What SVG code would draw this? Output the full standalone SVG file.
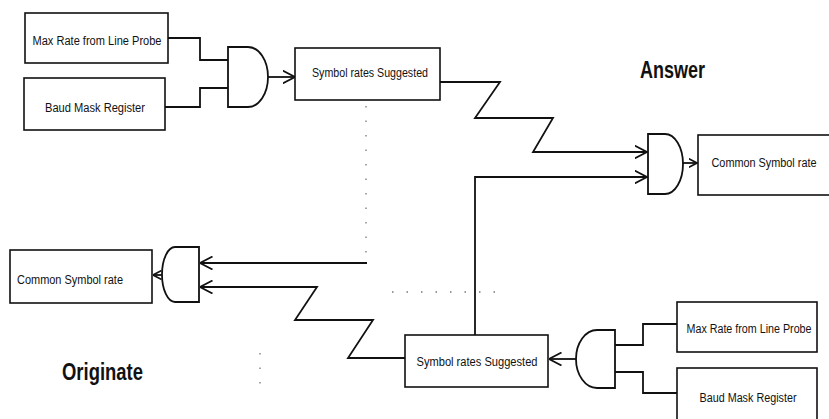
<svg xmlns="http://www.w3.org/2000/svg" width="829" height="419" viewBox="0 0 829 419">
<style>
.box{fill:#fff;stroke:#111;stroke-width:1.6}
.gate{fill:none;stroke:#111;stroke-width:1.8}
.wire{fill:none;stroke:#111;stroke-width:1.8}
.arr{marker-end:url(#ah)}
.sarr{marker-end:url(#sah)}
.faint{fill:none;stroke:#777;stroke-width:1.3;stroke-dasharray:1.5 13}
.t{font-family:"Liberation Sans",Arial,sans-serif;font-size:12px;fill:#111;text-anchor:middle}
.big{font-family:"Liberation Sans",Arial,sans-serif;font-size:23px;font-weight:bold;fill:#111}
</style>
<defs>
<marker id="ah" viewBox="0 0 13 14" refX="12.5" refY="7" markerWidth="13" markerHeight="14" markerUnits="userSpaceOnUse" orient="auto">
<path d="M0,0.5 L12.5,7 L0,13.5" fill="none" stroke="#111" stroke-width="1.8"/>
</marker>
<marker id="sah" viewBox="0 0 9 10" refX="8.5" refY="5" markerWidth="9" markerHeight="10" markerUnits="userSpaceOnUse" orient="auto">
<path d="M0,0.5 L8.5,5 L0,9.5" fill="none" stroke="#111" stroke-width="1.6"/>
</marker>
</defs>

<g id="connectors">
<polyline class="wire" points="168,38 200,38 200,60 228,60"/>
<polyline class="wire" points="165,107 200,107 200,88 228,88"/>
<line class="wire arr" x1="268" y1="77" x2="295" y2="77"/>
<polyline class="wire arr" points="440,82 500,82 475,118 553,118 533,152 647,152"/>
<polyline class="wire arr" points="475,335 475,177 647,177"/>
<line class="wire sarr" x1="683" y1="163" x2="697" y2="163"/>
<line class="faint" x1="366" y1="106" x2="366" y2="262"/>
<polyline class="wire arr" points="367,263 200,263"/>
<polyline class="wire arr" points="405,358 348,358 373,320 295,320 317,287 200,287"/>
<line class="wire sarr" x1="162" y1="275" x2="153" y2="275"/>
<polyline class="wire" points="677,324 643,324 643,345 615,345"/>
<polyline class="wire" points="677,393 643,393 643,372 615,372"/>
<line class="wire arr" x1="576" y1="359" x2="549" y2="359"/>
<line class="faint" x1="392" y1="292" x2="500" y2="292"/>
<line class="faint" x1="260" y1="353" x2="260" y2="390"/>
</g>

<g id="gate-answer-in">
<path class="gate" d="M228,47 H248 A20,30 0 0 1 248,107 H228 Z"/>
</g>
<g id="gate-answer-out">
<path class="gate" d="M648,134 H665 A18,30 0 0 1 665,194 H648 Z"/>
</g>
<g id="gate-originate-out">
<path class="gate" d="M199,247 H175 A13,27.5 0 0 0 175,302 H199 Z"/>
</g>
<g id="gate-originate-in">
<path class="gate" d="M615,330 H597 A21,29 0 0 0 597,388 H615 Z"/>
</g>

<g id="answer-max-rate">
<rect class="box" x="25" y="13" width="143" height="50"/>
<text class="t" x="97" y="45" textLength="129" lengthAdjust="spacingAndGlyphs">Max Rate from Line Probe</text>
</g>
<g id="answer-baud-mask">
<rect class="box" x="24" y="78" width="141" height="52"/>
<text class="t" x="95" y="112" textLength="100" lengthAdjust="spacingAndGlyphs">Baud Mask Register</text>
</g>
<g id="answer-symbol-rates">
<rect class="box" x="295" y="48" width="145" height="52"/>
<text class="t" x="370" y="77" textLength="116" lengthAdjust="spacingAndGlyphs">Symbol rates Suggested</text>
</g>
<g id="answer-common-rate">
<rect class="box" x="698" y="135" width="135" height="60"/>
<text class="t" x="764" y="167" textLength="105" lengthAdjust="spacingAndGlyphs">Common Symbol rate</text>
</g>
<g id="originate-common-rate">
<rect class="box" x="10" y="250" width="142" height="53"/>
<text class="t" x="70" y="284" textLength="106" lengthAdjust="spacingAndGlyphs">Common Symbol rate</text>
</g>
<g id="originate-symbol-rates">
<rect class="box" x="405" y="335" width="143" height="52"/>
<text class="t" x="477" y="366" textLength="121" lengthAdjust="spacingAndGlyphs">Symbol rates Suggested</text>
</g>
<g id="originate-max-rate">
<rect class="box" x="677" y="302" width="140" height="50"/>
<text class="t" x="749" y="333" textLength="125" lengthAdjust="spacingAndGlyphs">Max Rate from Line Probe</text>
</g>
<g id="originate-baud-mask">
<rect class="box" x="677" y="368" width="140" height="60"/>
<text class="t" x="748" y="402" textLength="97" lengthAdjust="spacingAndGlyphs">Baud Mask Register</text>
</g>

<g id="labels">
<text class="big" x="640" y="78" textLength="65" lengthAdjust="spacingAndGlyphs">Answer</text>
<text class="big" x="62" y="380" textLength="81" lengthAdjust="spacingAndGlyphs">Originate</text>
</g>
</svg>
